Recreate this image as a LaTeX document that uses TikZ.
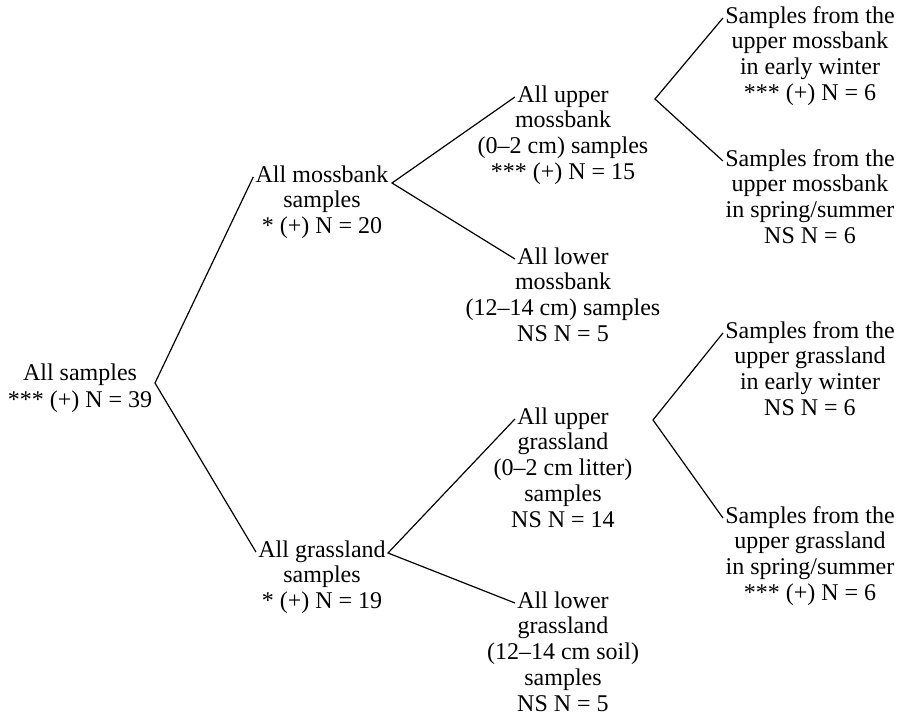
\documentclass[tikz,border=0pt]{standalone}
\usepackage{fontspec}
\setmainfont{Liberation Serif}
\begin{document}
\begin{tikzpicture}[x=0.5pt,y=-0.5pt,
  font=\fontsize{12}{13}\selectfont,
  head/.style={inner sep=1pt,text height=8.5pt,text depth=2.5pt},
  body/.style={inner sep=0pt,align=center,anchor=north,
    execute at begin node=\strut},
  link/.style={line width=0.6pt}]
\useasboundingbox (0,0) rectangle (906,721);
% first lines
\node [head] (all) at (80,375) {All samples};
\node [head] (mb) at (322,177) {All mossbank};
\node [head] (gr) at (322,552) {All grassland};
\node [head] (um) at (563,97) {All upper};
\node [head] (lm) at (563,259) {All lower};
\node [head] (ug) at (563,419) {All upper};
\node [head] (lg) at (563,603) {All lower};
\node [head] (mw) at (810,18) {Samples from the};
\node [head] (ms) at (810,161) {Samples from the};
\node [head] (gw) at (810,333) {Samples from the};
\node [head] (gs) at (810,518) {Samples from the};
% the rest of each label
\node [body] (allx) at ([yshift=-3.9pt]all.base) {*** (+) N = 39};
\node [body] (mbx) at ([yshift=-3.9pt]mb.base) {samples\\* (+) N = 20};
\node [body] (grx) at ([yshift=-3.9pt]gr.base) {samples\\* (+) N = 19};
\node [body] (umx) at ([yshift=-3.9pt]um.base) {mossbank\\(0–2 cm) samples\\*** (+) N = 15};
\node [body] (lmx) at ([yshift=-3.9pt]lm.base) {mossbank\\(12–14 cm) samples\\NS N = 5};
\node [body] (ugx) at ([yshift=-3.9pt]ug.base) {grassland\\(0–2 cm litter)\\samples\\NS N = 14};
\node [body] (lgx) at ([yshift=-3.9pt]lg.base) {grassland\\(12–14 cm soil)\\samples\\NS N = 5};
\node [body] (mwx) at ([yshift=-3.9pt]mw.base) {upper mossbank\\in early winter\\*** (+) N = 6};
\node [body] (msx) at ([yshift=-3.9pt]ms.base) {upper mossbank\\in spring/summer\\NS N = 6};
\node [body] (gwx) at ([yshift=-3.9pt]gw.base) {upper grassland\\in early winter\\NS N = 6};
\node [body] (gsx) at ([yshift=-3.9pt]gs.base) {upper grassland\\in spring/summer\\*** (+) N = 6};
% branch points
\coordinate (v0) at (155,383);
\coordinate (v1) at (392,183);
\coordinate (v2) at (388,553);
\coordinate (v3) at (655,99);
\coordinate (v4) at (653,420);
\draw [link] (mb.west) -- (v0) -- (gr.west);
\draw [link] (um.west) -- (v1) -- (lm.west);
\draw [link] (ug.west) -- (v2) -- (lg.west);
\draw [link] (mw.west) -- (v3) -- (ms.west);
\draw [link] (gw.west) -- (v4) -- (gs.west);
\end{tikzpicture}
\end{document}
